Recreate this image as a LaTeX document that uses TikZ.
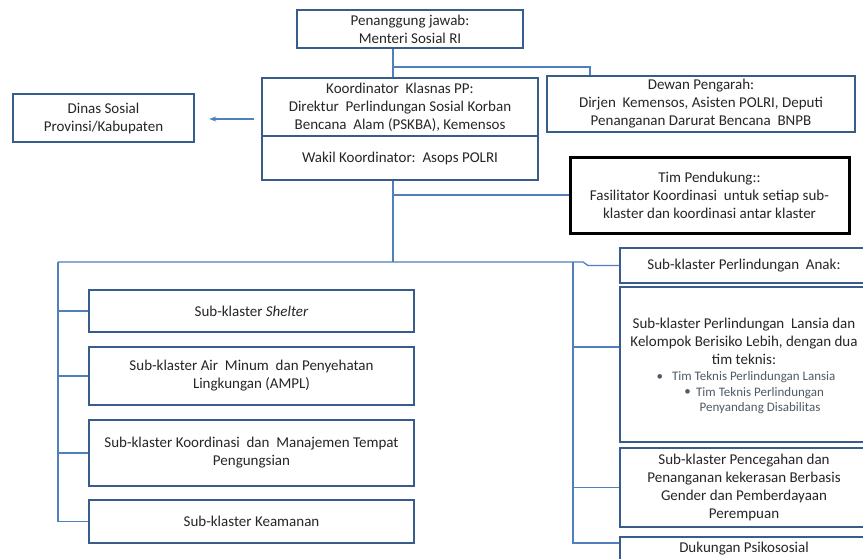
\documentclass[tikz,border=0pt]{standalone}
\usepackage{fontspec}
\setmainfont{Carlito}
\usetikzlibrary{arrows.meta}
\definecolor{boxblue}{HTML}{385D8A}
\definecolor{linecol}{HTML}{4F7FBD}
\definecolor{txtcol}{HTML}{262626}
\definecolor{bulcol}{HTML}{505A66}
\tikzset{
  box/.style={draw=boxblue, line width=2.4pt, align=center, inner sep=0pt, text=txtcol,
    font=\fontsize{15}{18}\selectfont},
  blackbox/.style={box, draw=black, line width=3pt},
  txt/.style={align=center, inner sep=0pt, text=txtcol, font=\fontsize{15}{18}\selectfont},
  bul/.style={align=center, inner sep=0pt, text=bulcol, font=\fontsize{13}{15.5}\selectfont},
  conn/.style={draw=linecol, line width=1.3pt},
  arr/.style={conn, -{Stealth[length=7pt,width=5pt]}}
}
\begin{document}
\begin{tikzpicture}[x=1pt,y=-1pt]
\useasboundingbox[fill=white] (0,0) rectangle (863,558);

% top part
\node[box, minimum width=226, minimum height=38] (top) at (410,29) {Penanggung jawab:\\Menteri Sosial RI};
\node[box, minimum width=276, minimum height=58] (koorTop) at (400,107)
  {Koordinator\ \ Klasnas PP:\\Direktur\ \ Perlindungan Sosial Korban\\Bencana\ \ Alam (PSKBA), Kemensos};
\node[box, minimum width=276, minimum height=44] (koorBot) at (400,158) {Wakil Koordinator:\ \ Asops POLRI};
\node[box, minimum width=181, minimum height=48] (dinas) at (103.5,118) {Dinas Sosial\\Provinsi/Kabupaten};
\node[box, minimum width=308, minimum height=56] (dewan) at (701,104)
  {Dewan Pengarah:\\Dirjen\ \ Kemensos, Asisten POLRI, Deputi\\Penanganan Darurat Bencana\ \ BNPB};
\node[blackbox, minimum width=279, minimum height=76] (tim) at (709.5,195)
  {Tim Pendukung::\\Fasilitator Koordinasi\ \ untuk setiap sub-\\klaster dan koordinasi antar klaster};

% left column
\node[box, minimum width=325, minimum height=42] (shelter) at (251.5,311) {Sub-klaster \textit{Shelter}};
\node[box, minimum width=325, minimum height=58] (ampl) at (251.5,376) {Sub-klaster Air\ \ Minum\ \ dan Penyehatan\\Lingkungan (AMPL)};
\node[box, minimum width=325, minimum height=66] (kmtp) at (251.5,453) {Sub-klaster Koordinasi\ \ dan\ \ Manajemen Tempat\\Pengungsian};
\node[box, minimum width=325, minimum height=43] (keam) at (251.5,521.5) {Sub-klaster Keamanan};

% right column
\node[box, minimum width=248, minimum height=35] (anak) at (744,265.5) {Sub-klaster Perlindungan\ \ Anak:};
\node[box, minimum width=248, minimum height=155] (lansia) at (744,364.5) {};
\node[txt] (lansiaT) at (744,341) {Sub-klaster Perlindungan\ \ Lansia dan\\Kelompok Berisiko Lebih, dengan dua\\tim teknis:};
\node[bul] (b1) at (746,377) {\textbullet\hspace{9pt}Tim Teknis Perlindungan Lansia};
\node[bul] (b2) at (760,400.5) {Tim Teknis Perlindungan\\Penyandang Disabilitas};
\node[bul, anchor=east] (b2dot) at ([xshift=-5pt]b2.north west |- 0,393) {\textbullet};
\node[box, minimum width=248, minimum height=79] (gender) at (744,487.5)
  {\fontsize{15}{19}\selectfont Sub-klaster Pencegahan dan\\Penanganan kekerasan Berbasis\\Gender dan Pemberdayaan\\Perempuan};
\node[box, minimum width=248, minimum height=24] (dukung) at (744,549) {Dukungan Psikososial};

% connectors
\coordinate (c1) at (393,67);
\coordinate (c2) at (590,67);
\draw[conn] (top.south -| c1) -- (koorTop.north -| c1);
\draw[conn] (c1) -- (c2) -- (dewan.north -| c2);
\draw[arr] ([xshift=-7pt]koorTop.west |- 0,119) -- ([xshift=14pt]dinas.east |- 0,119);

\coordinate (m0) at (393,262);
\coordinate (L0) at (58,262);
\coordinate (R0) at (573,262);
\draw[conn] (koorBot.south -| m0) -- (m0);
\draw[conn] (m0 |- tim.west) -- (tim.west);
\draw[conn] (L0) -- (R0) -- (583,262) -- (588,265.5) -- (anak.west);
\draw[conn] (L0) -- (L0 |- keam.west) -- (keam.west);
\draw[conn] (L0 |- shelter.west) -- (shelter.west);
\draw[conn] (L0 |- ampl.west) -- (ampl.west);
\draw[conn] (L0 |- kmtp.west) -- (kmtp.west);
\draw[conn] (R0) -- (R0 |- 0,543) -- ([yshift=6pt]dukung.west);
\draw[conn] (R0 |- 0,347) -- ([yshift=17.5pt]lansia.west);
\draw[conn] (R0 |- gender.west) -- (gender.west);
\end{tikzpicture}
\end{document}
